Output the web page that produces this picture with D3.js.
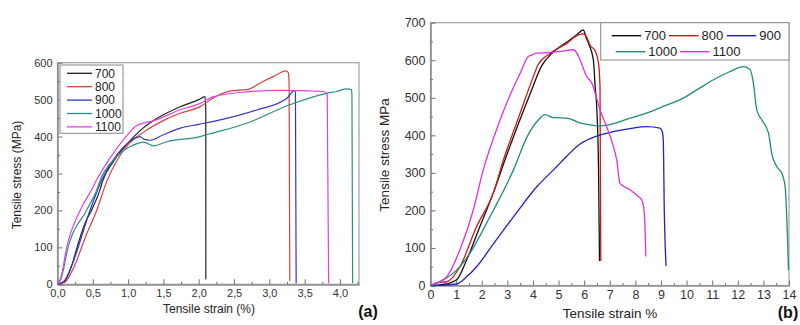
<!DOCTYPE html>
<html>
<head>
<meta charset="utf-8">
<script src="https://cdn.jsdelivr.net/npm/d3@7"></script>
<style>
  body { margin: 0; background: #fff; }
  svg { font-family: Arial, "Liberation Sans", sans-serif; }
  .tick text { fill: #333; }
</style>
</head>
<body>
<div class="chart"></div>
<script>
const width = 800;
const height = 325;

// series names
const temps = ["700", "800", "900", "1000", "1100"];

// panel (a): [strain %, stress MPa]
const a700 = [[0,0],[0.1,8],[0.2,50],[0.3,115],[0.4,170],[0.48,200],[0.6,255],[0.64,280],[0.8,335],[1.0,383],[1.17,416],[1.4,448],[1.73,480],[2.0,500],[2.09,508],[2.1,470],[2.101,14]];
const a800 = [[0,0],[0.1,5],[0.24,50],[0.4,130],[0.555,200],[0.7,280],[0.85,338],[1.0,378],[1.22,412],[1.55,448],[1.74,463],[2.02,481],[2.21,505],[2.44,523],[2.7,528],[2.87,545],[3.06,563],[3.24,578],[3.27,572],[3.28,540],[3.29,9]];
const a900 = [[0,0],[0.1,10],[0.2,50],[0.46,200],[0.62,280],[0.8,340],[1.0,383],[1.17,400],[1.22,393],[1.31,390],[1.5,405],[1.74,423],[2.0,433],[2.35,447],[2.82,472],[3.25,504],[3.36,525],[3.37,518],[3.38,3]];
const a1000 = [[0,0],[0.05,15],[0.15,100],[0.41,200],[0.555,255],[0.6,280],[0.8,338],[1.03,373],[1.1,379],[1.22,385],[1.36,375],[1.55,386],[2.02,400],[2.11,405],[2.68,436],[3.29,486],[3.81,517],[3.95,522],[4.1,529],[4.16,527],[4.17,515],[4.18,3]];
const a1100 = [[0,0],[0.05,20],[0.13,100],[0.32,200],[0.48,255],[0.555,283],[0.74,341],[0.95,395],[1.12,429],[1.4,445],[1.7,470],[2.02,490],[2.21,508],[2.68,521],[3.15,525],[3.77,522],[3.82,516],[3.84,3]];

// panel (b): [strain %, stress MPa]
const b700 = [[0,0],[0.3,1],[0.63,4],[1.02,15],[1.41,68],[1.93,157],[2.45,246],[2.91,335],[3.4,425],[3.9,512],[4.34,585],[4.8,622],[5.32,648],[5.71,668],[5.97,681],[6.07,662],[6.2,640],[6.36,601],[6.43,530],[6.49,477],[6.56,317],[6.6,65]];
const b800 = [[0,0],[0.3,8],[0.63,10],[1.15,50],[1.8,157],[2.45,246],[2.85,335],[3.4,440],[4.02,557],[4.2,588],[4.67,618],[5.32,645],[5.8,668],[5.97,670],[6.1,662],[6.23,640],[6.43,625],[6.56,593],[6.62,530],[6.65,65]];
const b900 = [[0,0],[0.5,1],[1.02,4],[1.41,23],[1.8,50],[2.5,115],[3.24,183],[4.15,263],[4.8,308],[5.06,326],[5.84,377],[6.49,398],[7.14,410],[7.79,418],[8.44,423],[8.96,419],[9.05,410],[9.09,388],[9.13,200],[9.2,52]];
const b1000 = [[0,0],[0.5,15],[1.02,41],[1.54,86],[2.32,183],[3.24,308],[3.8,400],[4.2,440],[4.47,455],[4.8,447],[5.32,446],[5.84,433],[6.23,428],[6.62,425],[7.14,431],[7.79,446],[8.44,459],[9.09,477],[9.75,495],[10.4,521],[11.05,548],[11.7,570],[12.22,583],[12.48,575],[12.61,539],[12.74,468],[12.94,441],[13.2,406],[13.33,350],[13.52,317],[13.72,299],[13.85,263],[13.98,41]];
const b1100 = [[0,0],[0.24,6],[0.63,23],[1.15,95],[1.67,201],[2.06,308],[2.5,400],[3.0,490],[3.5,565],[3.82,610],[4.0,615],[4.15,619],[4.5,620],[5.0,623],[5.58,628],[5.75,615],[5.84,601],[6.1,557],[6.3,539],[6.62,468],[6.88,423],[7.1,380],[7.27,335],[7.4,272],[7.79,255],[8.1,238],[8.25,228],[8.35,193],[8.41,77]];

// axis ticks
const xTicksA = [0, 0.5, 1, 1.5, 2, 2.5, 3, 3.5, 4];
const xMinorA = [0.25, 0.75, 1.25, 1.75, 2.25, 2.75, 3.25, 3.75, 4.25];
const yTicksA = [0, 100, 200, 300, 400, 500, 600];
const yMinorA = [50, 150, 250, 350, 450, 550];
const xTicksB = [0, 1, 2, 3, 4, 5, 6, 7, 8, 9, 10, 11, 12, 13, 14];
const xMinorB = [0.5, 1.5, 2.5, 3.5, 4.5, 5.5, 6.5, 7.5, 8.5, 9.5, 10.5, 11.5, 12.5, 13.5];
const yTicksB = [0, 100, 200, 300, 400, 500, 600, 700];
const yMinorB = [50, 150, 250, 350, 450, 550, 650];

const colorsA = ["#222222", "#d9413f", "#3333c8", "#2a9080", "#e040e8"];
const colorsB = ["#111111", "#d01818", "#2020d0", "#1f8a7a", "#e030e0"];

const svg = d3.select(".chart").append("svg").attr("width", width).attr("height", height);
svg.append("rect").attr("width", width).attr("height", height).attr("fill", "#fff");

const commaFmt = d3.formatLocale({decimal: ",", thousands: ".", grouping: [3], currency: ["", ""]}).format(".1f");

function panel(opts) {
  const g = svg.append("g");
  const x = d3.scaleLinear().domain(opts.xDomain).range(opts.xRange);
  const y = d3.scaleLinear().domain(opts.yDomain).range(opts.yRange);

  g.append("rect")
    .attr("x", opts.xRange[0]).attr("y", opts.yRange[1])
    .attr("width", opts.xRange[1] - opts.xRange[0])
    .attr("height", opts.yRange[0] - opts.yRange[1])
    .attr("fill", "none").attr("stroke", "#a0a0a0").attr("stroke-width", 1.2);

  g.append("g").attr("transform", `translate(0,${opts.yRange[0]})`)
    .call(d3.axisBottom(x).tickValues(opts.xTicks).tickFormat(opts.xFmt).tickSizeInner(-5).tickSizeOuter(0).tickPadding(5));
  g.append("g").attr("transform", `translate(0,${opts.yRange[0]})`)
    .call(d3.axisBottom(x).tickValues(opts.xMinor).tickFormat("").tickSizeInner(-2.5).tickSizeOuter(0));
  g.append("g").attr("transform", `translate(${opts.xRange[0]},0)`)
    .call(d3.axisLeft(y).tickValues(opts.yTicks).tickSizeInner(-5).tickSizeOuter(0).tickPadding(5));
  g.append("g").attr("transform", `translate(${opts.xRange[0]},0)`)
    .call(d3.axisLeft(y).tickValues(opts.yMinor).tickFormat("").tickSizeInner(-2.5).tickSizeOuter(0));

  g.selectAll(".domain").attr("stroke", "#909090").attr("stroke-width", 1.2);
  g.selectAll(".tick line").attr("stroke", "#707070");
  g.selectAll(".tick text").attr("font-size", opts.tickFont).attr("fill", "#333");

  const line = d3.line()
    .x(d => x(d[0]))
    .y(d => y(d[1]))
    .curve(d3.curveMonotoneX);

  g.selectAll(".curve")
    .data(opts.series)
    .enter()
      .append("path")
      .attr("class", "curve")
      .attr("d", d => line(d))
      .attr("fill", "none")
      .attr("stroke", (d, i) => opts.colors[i])
      .attr("stroke-width", opts.lineWidth);

  return g;
}

// ---- panel (a)
const gA = panel({
  xDomain: [0, 4.27], xRange: [57.5, 359],
  yDomain: [0, 600], yRange: [284.3, 62.7],
  xTicks: xTicksA, xMinor: xMinorA, yTicks: yTicksA, yMinor: yMinorA,
  xFmt: d => commaFmt(d), tickFont: "11px",
  series: [a700, a800, a900, a1000, a1100], colors: colorsA, lineWidth: 1.2
});

gA.append("text").attr("x", 209).attr("y", 313).attr("text-anchor", "middle")
  .attr("font-size", "12px").attr("fill", "#222").text("Tensile strain (%)");
gA.append("text").attr("transform", "translate(21,175) rotate(-90)").attr("text-anchor", "middle")
  .attr("font-size", "12px").attr("fill", "#222").text("Tensile stress (MPa)");
gA.append("text").attr("x", 368).attr("y", 317).attr("text-anchor", "middle")
  .attr("font-size", "16px").attr("font-weight", "bold").attr("fill", "#111").text("(a)");

const legA = gA.append("g");
legA.append("rect").attr("x", 60).attr("y", 65).attr("width", 63).attr("height", 68.3)
  .attr("fill", "#fff").attr("stroke", "#888").attr("stroke-width", 1);
temps.forEach((t, i) => {
  const yy = 73.3 + i * 13.4;
  legA.append("line").attr("x1", 67).attr("x2", 92).attr("y1", yy).attr("y2", yy)
    .attr("stroke", colorsA[i]).attr("stroke-width", 1.3);
  legA.append("text").attr("x", 95).attr("y", yy + 4.3).attr("font-size", "12px").attr("fill", "#222").text(t);
});

// ---- panel (b)
const gB = panel({
  xDomain: [0, 14], xRange: [430.5, 789],
  yDomain: [0, 700], yRange: [285.5, 22.7],
  xTicks: xTicksB, xMinor: xMinorB, yTicks: yTicksB, yMinor: yMinorB,
  xFmt: d3.format("d"), tickFont: "12.5px",
  series: [b700, b800, b900, b1000, b1100], colors: colorsB, lineWidth: 1.3
});

gB.append("text").attr("x", 610).attr("y", 318).attr("text-anchor", "middle")
  .attr("font-size", "13.5px").attr("fill", "#222").text("Tensile strain %");
gB.append("text").attr("transform", "translate(389,155) rotate(-90)").attr("text-anchor", "middle")
  .attr("font-size", "13.5px").attr("fill", "#222").text("Tensile stress MPa");
gB.append("text").attr("x", 788).attr("y", 318).attr("text-anchor", "middle")
  .attr("font-size", "16px").attr("font-weight", "bold").attr("fill", "#111").text("(b)");

const legB = gB.append("g");
legB.append("rect").attr("x", 600.7).attr("y", 22.7).attr("width", 188.3).attr("height", 37.3)
  .attr("fill", "#fff").attr("stroke", "#888").attr("stroke-width", 1);
const legBPos = [[611.7, 35.7], [669, 35.7], [726.7, 35.7], [615.7, 51.7], [680, 51.7]];
temps.forEach((t, i) => {
  const [lx, ly] = legBPos[i];
  legB.append("line").attr("x1", lx).attr("x2", lx + 29.5).attr("y1", ly).attr("y2", ly)
    .attr("stroke", colorsB[i]).attr("stroke-width", 1.4);
  legB.append("text").attr("x", lx + 32.5).attr("y", ly + 4.6).attr("font-size", "13px").attr("fill", "#222").text(t);
});
</script>
</body>
</html>
